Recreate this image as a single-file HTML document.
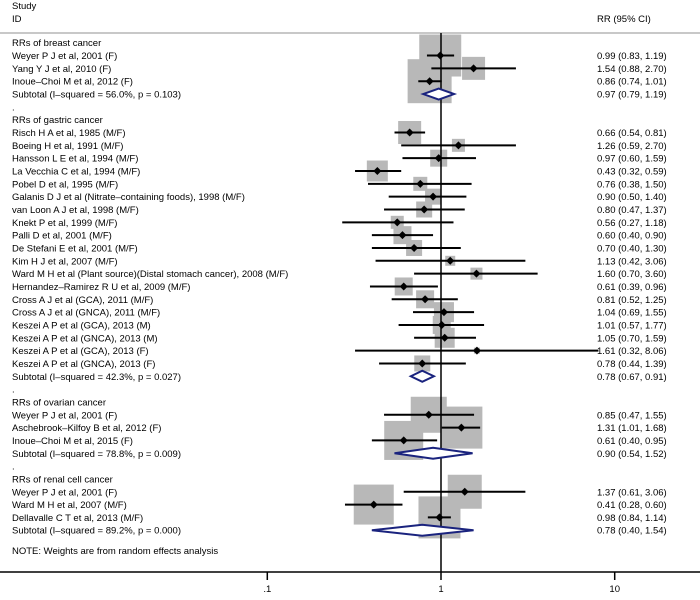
<!DOCTYPE html>
<html><head><meta charset="utf-8"><style>
html,body{margin:0;padding:0;background:#fff;}
svg{display:block;font-family:"Liberation Sans",Arial,sans-serif;}
</style></head><body>
<svg id="chart" width="700" height="600" viewBox="0 0 700 600"></svg>
<script>
// row kinds: h=group header, s=study, t=subtotal, d=dot separator
const rowKinds = ["h","s","s","s","t","d","h","s","s","s","s","s","s","s","s","s","s","s","s","s","s","s","s","s","s","s","t","d","h","s","s","s","t","d","h","s","s","s","t"];
const rowLabels = ["RRs of breast cancer","Weyer P J et al, 2001 (F)","Yang Y J et al, 2010 (F)","Inoue\u2013Choi M et al, 2012 (F)","Subtotal  (I\u2013squared = 56.0%, p = 0.103)",".",
"RRs of gastric cancer","Risch H A et al, 1985 (M/F)","Boeing H et al, 1991 (M/F)","Hansson L E et al, 1994 (M/F)","La Vecchia C et al, 1994 (M/F)","Pobel D et al, 1995 (M/F)","Galanis D J et al (Nitrate\u2013containing foods), 1998 (M/F)","van Loon A J et al, 1998 (M/F)","Knekt P et al, 1999 (M/F)","Palli D et al, 2001 (M/F)","De Stefani E et al, 2001 (M/F)","Kim H J et al, 2007 (M/F)","Ward M H et al (Plant source)(Distal stomach cancer), 2008 (M/F)","Hernandez\u2013Ramirez R U et al, 2009 (M/F)","Cross A J et al (GCA), 2011 (M/F)","Cross A J et al (GNCA), 2011 (M/F)","Keszei A P et al (GCA), 2013 (M)","Keszei A P et al (GNCA), 2013 (M)","Keszei A P et al (GCA), 2013 (F)","Keszei A P et al (GNCA), 2013 (F)","Subtotal  (I\u2013squared = 42.3%, p = 0.027)",".",
"RRs of ovarian cancer","Weyer P J et al, 2001 (F)","Aschebrook\u2013Kilfoy B et al, 2012 (F)","Inoue\u2013Choi M et al, 2015 (F)","Subtotal  (I\u2013squared = 78.8%, p = 0.009)",".",
"RRs of renal cell cancer","Weyer P J et al, 2001 (F)","Ward M H et al, 2007 (M/F)","Dellavalle C T et al, 2013 (M/F)","Subtotal  (I\u2013squared = 89.2%, p = 0.000)"];
const rr = [null,0.99,1.54,0.86,0.97,null,null,0.66,1.26,0.97,0.43,0.76,0.90,0.80,0.56,0.60,0.70,1.13,1.60,0.61,0.81,1.04,1.01,1.05,1.61,0.78,0.78,null,null,0.85,1.31,0.61,0.90,null,null,1.37,0.41,0.98,0.78];
const lo = [null,0.83,0.88,0.74,0.79,null,null,0.54,0.59,0.60,0.32,0.38,0.50,0.47,0.27,0.40,0.40,0.42,0.70,0.39,0.52,0.69,0.57,0.70,0.32,0.44,0.67,null,null,0.47,1.01,0.40,0.54,null,null,0.61,0.28,0.84,0.40];
const hi = [null,1.19,2.70,1.01,1.19,null,null,0.81,2.70,1.59,0.59,1.50,1.40,1.37,1.18,0.90,1.30,3.06,3.60,0.96,1.25,1.55,1.77,1.59,8.06,1.39,0.91,null,null,1.55,1.68,0.95,1.52,null,null,3.06,0.60,1.14,1.54];
// relative study weights (square side)
const weights = [0,42,23,44,0,0,0,23,13,17,21,14,16,16,13,18,16,10,12,18,18,20,18,20,6,16,0,0,0,36,42,39,0,0,0,34,40,42,0];
const rrText = ["","0.99 (0.83, 1.19)","1.54 (0.88, 2.70)","0.86 (0.74, 1.01)","0.97 (0.79, 1.19)","","","0.66 (0.54, 0.81)","1.26 (0.59, 2.70)","0.97 (0.60, 1.59)","0.43 (0.32, 0.59)","0.76 (0.38, 1.50)","0.90 (0.50, 1.40)","0.80 (0.47, 1.37)","0.56 (0.27, 1.18)","0.60 (0.40, 0.90)","0.70 (0.40, 1.30)","1.13 (0.42, 3.06)","1.60 (0.70, 3.60)","0.61 (0.39, 0.96)","0.81 (0.52, 1.25)","1.04 (0.69, 1.55)","1.01 (0.57, 1.77)","1.05 (0.70, 1.59)","1.61 (0.32, 8.06)","0.78 (0.44, 1.39)","0.78 (0.67, 0.91)","","","0.85 (0.47, 1.55)","1.31 (1.01, 1.68)","0.61 (0.40, 0.95)","0.90 (0.54, 1.52)","","","1.37 (0.61, 3.06)","0.41 (0.28, 0.60)","0.98 (0.84, 1.14)","0.78 (0.40, 1.54)"];
const tickValues = [0.1,1,10];
const tickLabels = [".1","1","10"];

const NS="http://www.w3.org/2000/svg";
const svg=document.getElementById('chart');
const X=v=>441+173.7*Math.log10(v);
const Y=i=>42.7+12.83*i;
function mk(tag,attrs,parent){const e=document.createElementNS(NS,tag);for(const k in attrs)e.setAttribute(k,attrs[k]);(parent||svg).appendChild(e);return e;}
function txt(s,x,y,anchor){const t=mk('text',{x:x,y:y,'font-size':'9.5',fill:'#000','text-anchor':anchor||'start'});t.textContent=s;return t;}

// header
let t=txt("Study",12,9);  
t=txt("ID",12,22);  
t=txt("RR (95% CI)",597,22);  
let hl=mk('line',{x1:0,x2:700,y1:33,y2:33,stroke:'#c8c8c8','stroke-width':2});
 

// squares layer
const gSq=mk('g',{});
 
// null line
const nl=mk('line',{x1:X(1),x2:X(1),y1:33,y2:572,stroke:'#000','stroke-width':1.5});
 
const gMk=mk('g',{});
 

for(let i=0;i<rowKinds.length;i++){
  const y=Y(i), k=rowKinds[i];
  const lab=txt(rowLabels[i],12,y+3.5);
  
  
  if(rrText[i]){const r=txt(rrText[i],597,y+3.5);
    
    }
  if(k==='s'){
    const w=weights[i], cx=X(rr[i]);
    let top=Math.max(33,y-w/2);
    const sq=mk('rect',{x:cx-w/2,y:top,width:w,height:y+w/2-top,fill:'#b8b8b8'},gSq);
    
    
    const ci=mk('line',{x1:X(lo[i]),x2:X(hi[i]),y1:y,y2:y,stroke:'#000','stroke-width':2},gMk);
    
    
    const p=mk('polygon',{points:`${cx-4},${y} ${cx},${y-4} ${cx+4},${y} ${cx},${y+4}`,fill:'#000'},gMk);
    
    
  } else if(k==='t'){
    const d=mk('polygon',{points:`${X(lo[i])},${y} ${X(rr[i])},${y-5.5} ${X(hi[i])},${y} ${X(rr[i])},${y+5.5}`,fill:'#fff',stroke:'#1a237e','stroke-width':2},gMk);
    
    
  }
}
t=txt("NOTE: Weights are from random effects analysis",12,554);
 

// axis
const ax=mk('line',{x1:0,x2:700,y1:572,y2:572,stroke:'#000','stroke-width':1.5});
 
for(let j=0;j<tickValues.length;j++){
  const x=X(tickValues[j]);
  const tk=mk('line',{x1:x,x2:x,y1:572,y2:580,stroke:'#000','stroke-width':1.5});
  
  
  const tl=txt(tickLabels[j],x,592,'middle');
  
  
}
</script>
</body></html>
